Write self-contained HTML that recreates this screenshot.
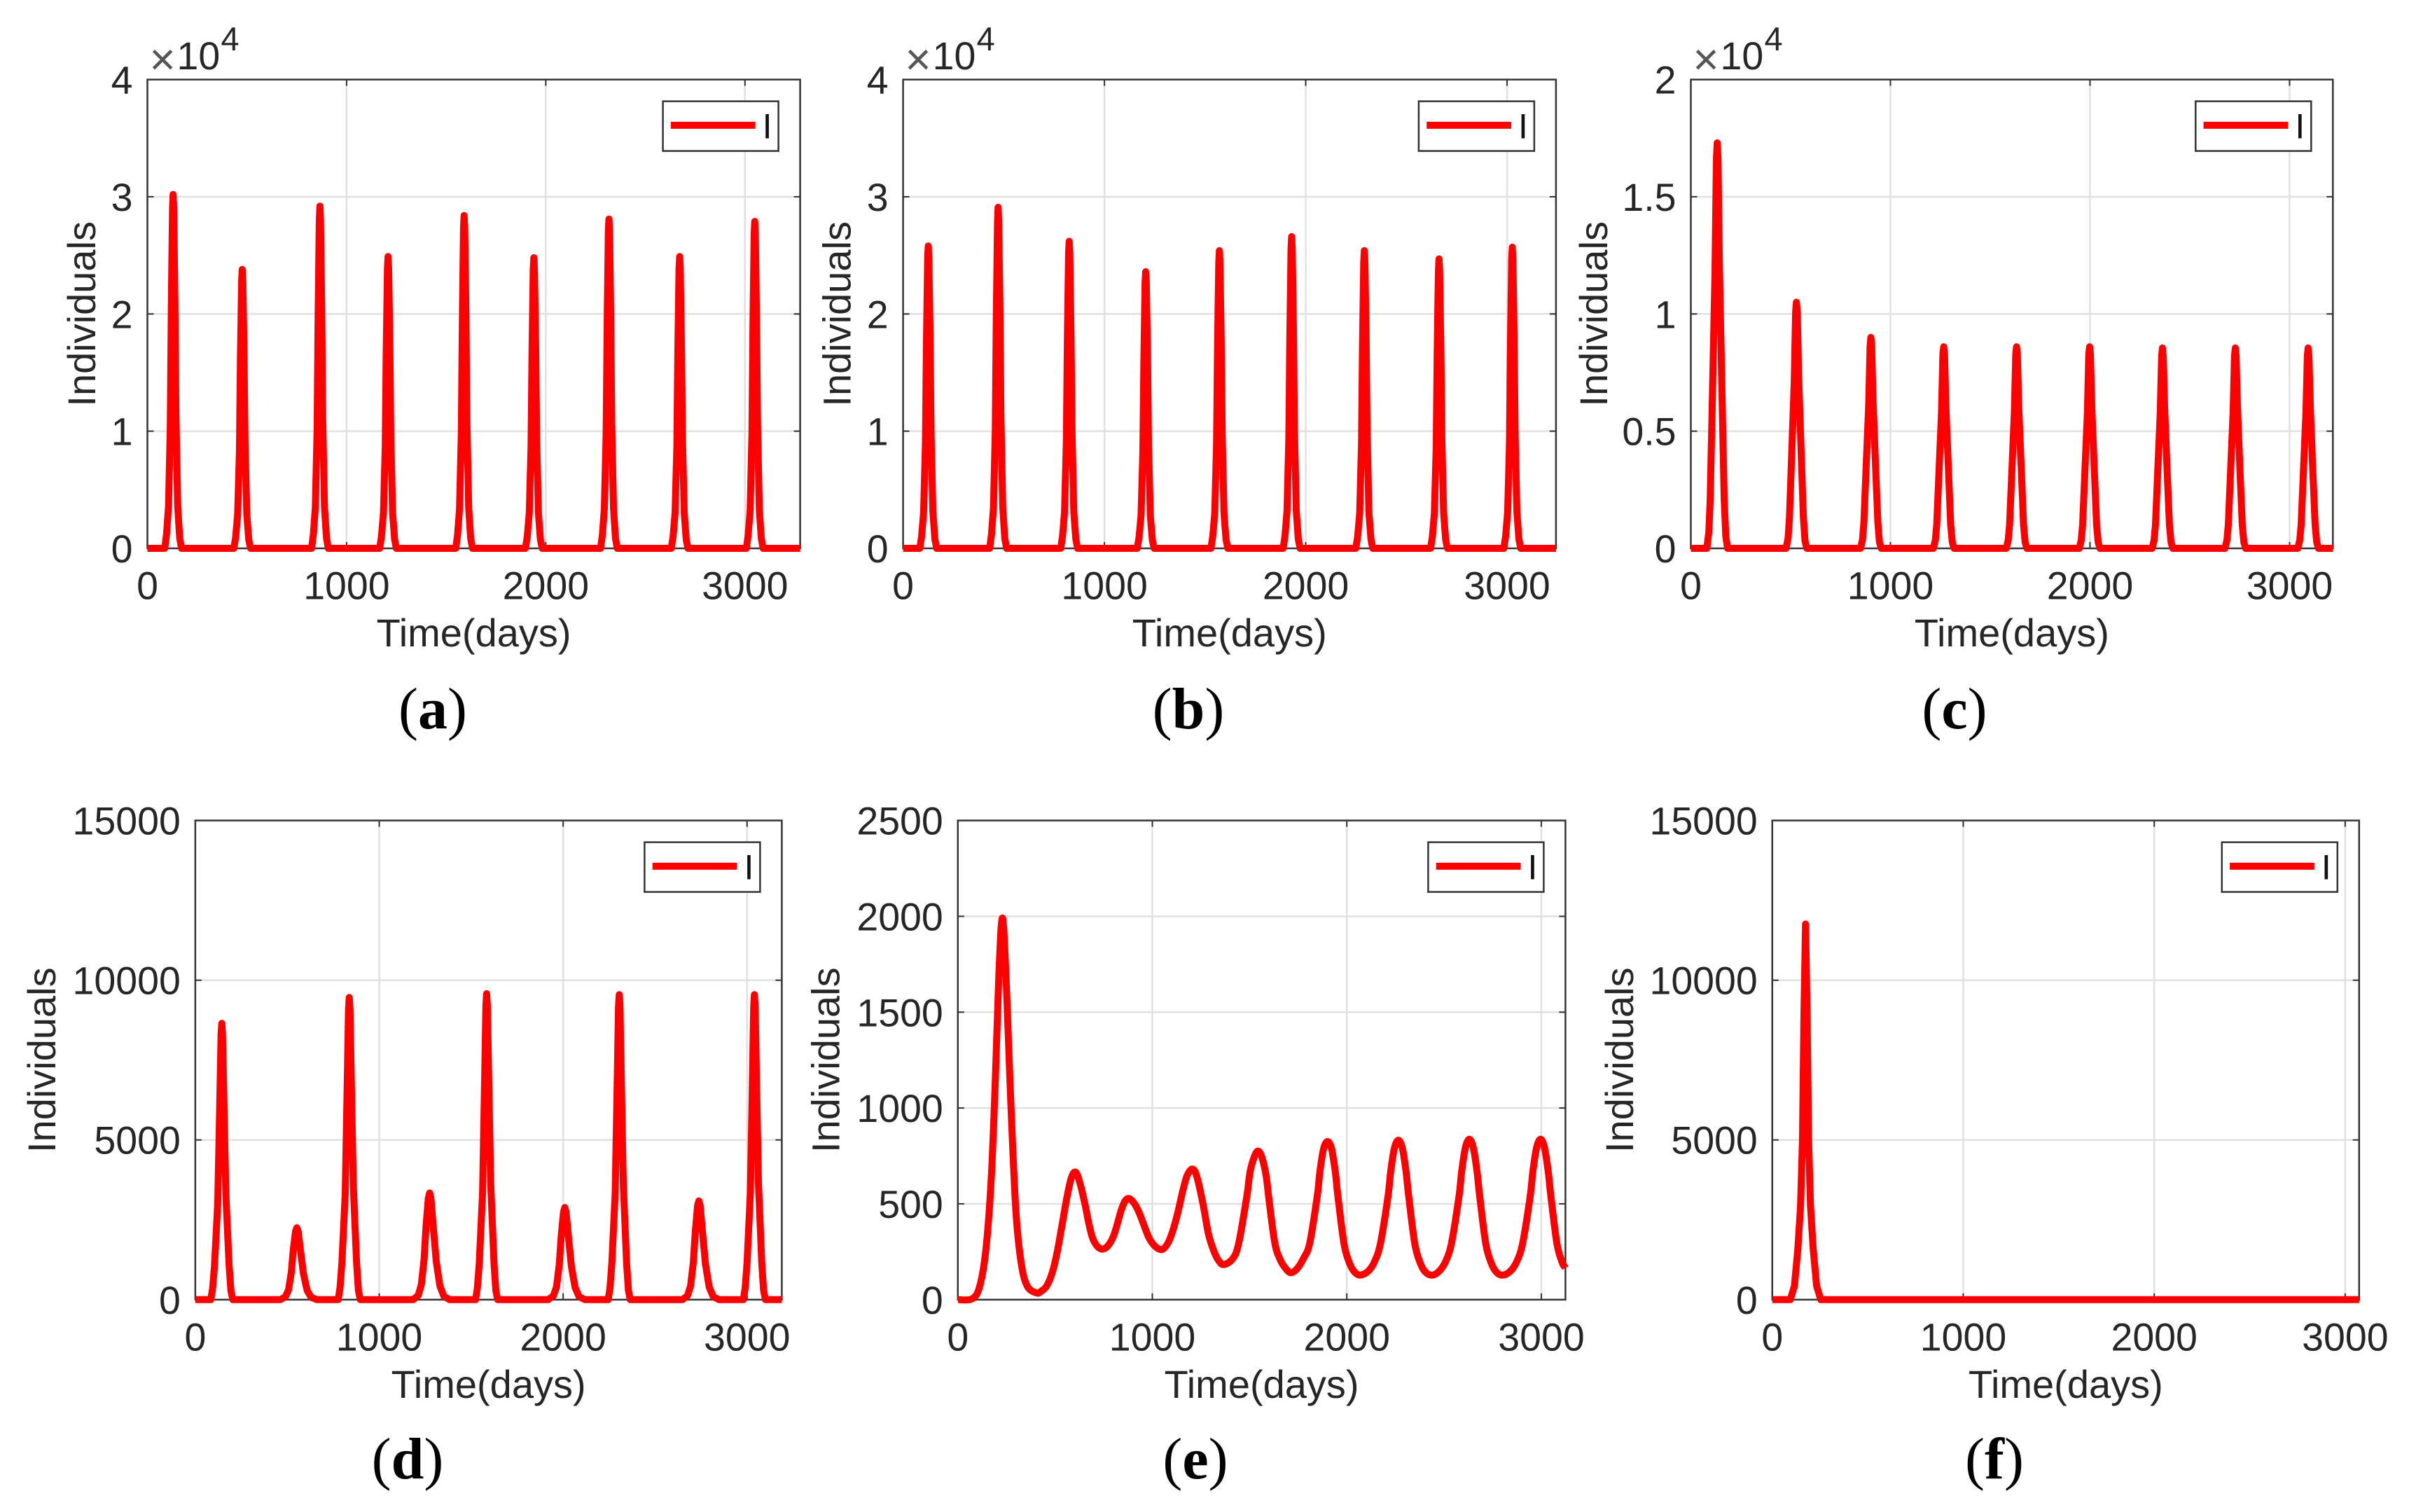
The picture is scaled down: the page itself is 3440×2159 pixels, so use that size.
<!DOCTYPE html>
<html lang="en">
<head>
<meta charset="utf-8">
<title>Infected individuals over time</title>
<style>
html,body{margin:0;padding:0;background:#fff;}
svg{display:block;font-family:"Liberation Sans",sans-serif;}
</style>
</head>
<body>
<svg id="figure" xmlns="http://www.w3.org/2000/svg" width="3440" height="2159" viewBox="0 0 3440 2159"></svg>
<script>
// ---------- DATA ----------
const xTickValues = [0, 1000, 2000, 3000];
const xTickLabels = ['0', '1000', '2000', '3000'];

const yTicks40k = [0, 10000, 20000, 30000, 40000];
const yLabels40k = ['0', '1', '2', '3', '4'];
const yTicks20k = [0, 5000, 10000, 15000, 20000];
const yLabels20k = ['0', '0.5', '1', '1.5', '2'];
const yTicks15k = [0, 5000, 10000, 15000];
const yLabels15k = ['0', '5000', '10000', '15000'];
const yTicks2500 = [0, 500, 1000, 1500, 2000, 2500];
const yLabels2500 = ['0', '500', '1000', '1500', '2000', '2500'];

const timesA = [0,
 87,96,106,115,120,126,129,132,138,143,152,162,171,
 434,443,453,462,467,473,476,479,485,490,499,509,518,
 824,833,843,852,857,863,866,869,875,880,889,899,908,
 1166,1175,1185,1194,1199,1205,1208,1211,1217,1222,1231,1241,1250,
 1548,1557,1567,1576,1581,1587,1590,1593,1599,1604,1613,1623,1632,
 1898,1907,1917,1926,1931,1937,1940,1943,1949,1954,1963,1973,1982,
 2275,2284,2294,2303,2308,2314,2317,2320,2326,2331,2340,2350,2359,
 2630,2639,2649,2658,2663,2669,2672,2675,2681,2686,2695,2705,2714,
 3007,3016,3026,3035,3040,3046,3049,3052,3058,3063,3072,3082,3091,
 3277];
const valuesA = [0,
 0,1200,3600,10600,20500,29000,30200,29000,21100,11500,3600,900,0,
 0,950,2900,8300,16200,22800,23800,22800,16700,9000,2900,700,0,
 0,1170,3500,10200,19900,28000,29200,28000,20400,11100,3500,900,0,
 0,1000,3000,8700,16900,23900,24900,23900,17400,9500,3000,750,0,
 0,1140,3400,9900,19300,27300,28400,27300,19900,10800,3400,850,0,
 0,1000,3000,8700,16900,23800,24800,23800,17400,9400,3000,750,0,
 0,1120,3400,9800,19100,27000,28100,27000,19700,10700,3400,840,0,
 0,1000,3000,8700,16900,23900,24900,23900,17400,9500,3000,750,0,
 0,1120,3300,9800,19000,26800,27900,26800,19500,10600,3300,840,0,
 0];

const timesB = [0,
 83,92,102,111,116,122,125,128,134,139,148,158,167,
 430,439,449,458,463,469,472,475,481,486,495,505,514,
 783,792,802,811,816,822,825,828,834,839,848,858,867,
 1163,1172,1182,1191,1196,1202,1205,1208,1214,1219,1228,1238,1247,
 1529,1538,1548,1557,1562,1568,1571,1574,1580,1585,1594,1604,1613,
 1888,1897,1907,1916,1921,1927,1930,1933,1939,1944,1953,1963,1972,
 2249,2258,2268,2277,2282,2288,2291,2294,2300,2305,2314,2324,2333,
 2620,2629,2639,2648,2653,2659,2662,2665,2671,2676,2685,2695,2704,
 2984,2993,3003,3012,3017,3023,3026,3029,3035,3040,3049,3059,3068,
 3243];
const valuesB = [0,
 0,1030,3100,9000,17500,24800,25800,24800,18100,9800,3100,770,0,
 0,1160,3500,10200,19800,27900,29100,27900,20400,11100,3500,870,0,
 0,1050,3100,9200,17800,25200,26200,25200,18300,10000,3100,790,0,
 0,940,2800,8300,16000,22700,23600,22700,16500,9000,2800,710,0,
 0,1020,3000,8900,17300,24400,25400,24400,17800,9700,3000,760,0,
 0,1060,3200,9300,18100,25500,26600,25500,18600,10100,3200,800,0,
 0,1020,3000,8900,17300,24400,25400,24400,17800,9700,3000,760,0,
 0,990,3000,8600,16800,23700,24700,23700,17300,9400,3000,740,0,
 0,1030,3100,9000,17500,24700,25700,24700,18000,9800,3100,770,0,
 0];

const timesC = [0,
 80,90,97,107,121,128,132,136,143,156,167,175,184,
 477,487,494,504,518,525,529,533,540,553,564,572,581,
 850,860,867,877,891,898,902,906,913,926,937,945,954,
 1215,1225,1232,1242,1256,1263,1267,1271,1278,1291,1302,1310,1319,
 1580,1590,1597,1607,1621,1628,1632,1636,1643,1656,1667,1675,1684,
 1946,1956,1963,1973,1987,1994,1998,2002,2009,2022,2033,2041,2050,
 2311,2321,2328,2338,2352,2359,2363,2367,2374,2387,2398,2406,2415,
 2676,2686,2693,2703,2717,2724,2728,2732,2739,2752,2763,2771,2780,
 3041,3051,3058,3068,3082,3089,3093,3097,3104,3117,3128,3136,3145,
 3217];
const valuesC = [0,
 0,690,2100,6100,11800,16600,17300,16600,12100,6600,2100,520,0,
 0,420,1300,3700,7100,10100,10500,10100,7400,4000,1300,320,0,
 0,360,1100,3200,6100,8600,9000,8600,6300,3400,1100,270,0,
 0,340,1000,3000,5800,8300,8600,8300,6000,3300,1000,260,0,
 0,340,1000,3000,5800,8300,8600,8300,6000,3300,1000,260,0,
 0,340,1000,3000,5800,8300,8600,8300,6000,3300,1000,260,0,
 0,340,1000,3000,5800,8200,8550,8200,6000,3200,1000,260,0,
 0,340,1000,3000,5800,8200,8550,8200,6000,3200,1000,260,0,
 0,340,1000,3000,5800,8200,8550,8200,6000,3200,1000,260,0,
 0];

const timesD = [0,
 84,94,104,122,132,140,144,148,156,166,184,194,204,
 462,490,507,522,533,545,552,559,572,588,608,630,662,
 777,787,797,815,825,833,837,841,849,859,877,887,897,
 1184,1212,1229,1244,1255,1267,1274,1281,1294,1310,1330,1352,1384,
 1524,1534,1544,1562,1572,1580,1584,1588,1596,1606,1624,1634,1644,
 1919,1947,1964,1979,1990,2002,2009,2016,2029,2045,2065,2087,2119,
 2245,2255,2265,2283,2293,2301,2305,2309,2317,2327,2345,2355,2365,
 2648,2676,2693,2708,2719,2731,2738,2745,2758,2774,2794,2816,2848,
 2980,2990,3000,3018,3028,3036,3040,3044,3052,3062,3080,3090,3100,
 3189];
const valuesD = [0,
 0,346,1040,3030,5880,8300,8650,8300,6050,3290,1040,260,0,
 0,90,310,860,1580,2140,2250,2140,1530,810,290,70,0,
 0,380,1140,3310,6430,9080,9460,9080,6620,3590,1140,280,0,
 0,130,470,1270,2340,3170,3340,3170,2270,1200,430,100,0,
 0,380,1150,3350,6510,9200,9580,9200,6710,3640,1150,290,0,
 0,120,400,1100,2020,2740,2885,2740,1960,1040,380,90,0,
 0,380,1150,3340,6490,9170,9550,9170,6690,3630,1150,290,0,
 0,120,430,1170,2160,2940,3090,2940,2100,1110,400,90,0,
 0,380,1150,3340,6490,9170,9550,9170,6690,3630,1150,290,0,
 0];

const timesE = [0,74,113,145,172,193,211,230,251,272,298,325,356,404,430,457,485,510,535,562,585,607,630,655,675,694,720,747,775,800,820,840,860,879,905,932,960,985,1018,1051,1080,1104,1130,1156,1180,1209,1232,1262,1288,1315,1340,1368,1414,1444,1486,1502,1524,1544,1564,1586,1600,1630,1659,1684,1711,1743,1777,1809,1848,1861,1880,1901,1922,1941,1954,1985,2012,2038,2067,2107,2141,2173,2212,2225,2244,2265,2286,2305,2318,2349,2376,2402,2437,2472,2506,2538,2577,2590,2609,2630,2651,2670,2683,2714,2741,2767,2798,2838,2872,2904,2943,2956,2975,2996,3017,3036,3049,3080,3107,3124];
const valuesE = [0,5,72,270,640,1158,1700,1990,1600,1035,467,195,72,35,45,72,140,244,385,540,640,664,600,491,390,318,275,264,285,331,395,467,515,528,505,454,380,318,275,262,295,356,450,565,650,681,630,491,345,257,205,183,215,294,541,664,745,775,740,640,520,294,205,165,141,160,215,294,541,664,785,825,785,664,541,294,195,146,128,146,195,294,541,664,788,832,788,664,541,294,195,146,128,146,195,294,541,664,790,837,790,664,541,294,195,146,128,146,195,294,541,664,790,837,790,664,541,294,195,165];

const timesF = [0,94,116,134,148,158,166,174,182,190,200,214,232,254,3073];
const valuesF = [0,0,430,1600,2935,5000,9050,11760,9050,5000,2935,1600,430,0,0];

// ---------- LAYOUT ----------
const panels = [
 {id:'a', left:210.5,  right:1142.6, top:113.6,  bottom:783,    xMax:3277, yMax:40000, times:timesA, values:valuesA, yTicks:yTicks40k,  yLabels:yLabels40k,  multiplier:true,  yTitleX:136,    captionX:618,  captionY:1040, smooth:false},
 {id:'b', left:1289.6, right:2221.9, top:113.6,  bottom:783,    xMax:3243, yMax:40000, times:timesB, values:valuesB, yTicks:yTicks40k,  yLabels:yLabels40k,  multiplier:true,  yTitleX:1214.5, captionX:1697, captionY:1040, smooth:false},
 {id:'c', left:2414.5, right:3331.3, top:113.6,  bottom:783,    xMax:3217, yMax:20000, times:timesC, values:valuesC, yTicks:yTicks20k,  yLabels:yLabels20k,  multiplier:true,  yTitleX:2295,   captionX:2791, captionY:1040, smooth:false},
 {id:'d', left:278.9,  right:1116.4, top:1171.6, bottom:1855.8, xMax:3189, yMax:15000, times:timesD, values:valuesD, yTicks:yTicks15k,  yLabels:yLabels15k,  multiplier:false, yTitleX:79,     captionX:582,  captionY:2111, smooth:false},
 {id:'e', left:1367.8, right:2235.4, top:1171.6, bottom:1855.8, xMax:3124, yMax:2500,  times:timesE, values:valuesE, yTicks:yTicks2500, yLabels:yLabels2500, multiplier:false, yTitleX:1198.4, captionX:1707, captionY:2111, smooth:true},
 {id:'f', left:2530.8, right:3368.8, top:1171.6, bottom:1855.8, xMax:3073, yMax:15000, times:timesF, values:valuesF, yTicks:yTicks15k,  yLabels:yLabels15k,  multiplier:false, yTitleX:2332,   captionX:2848, captionY:2111, smooth:false}
];

const svgNS = 'http://www.w3.org/2000/svg';
const figure = document.getElementById('figure');

function make(parent, tag, attrs, text) {
  const node = document.createElementNS(svgNS, tag);
  for (const key in attrs) node.setAttribute(key, attrs[key]);
  if (text !== undefined) node.textContent = text;
  parent.appendChild(node);
  return node;
}

function tracePath(px, smooth) {
  let d = 'M' + px[0][0].toFixed(2) + ' ' + px[0][1].toFixed(2);
  for (let i = 1; i < px.length; i++) {
    if (!smooth) {
      d += 'L' + px[i][0].toFixed(2) + ' ' + px[i][1].toFixed(2);
    } else {
      const p0 = px[Math.max(0, i - 2)], p1 = px[i - 1], p2 = px[i], p3 = px[Math.min(px.length - 1, i + 1)];
      const c1x = p1[0] + (p2[0] - p0[0]) / 6, c1y = p1[1] + (p2[1] - p0[1]) / 6;
      const c2x = p2[0] - (p3[0] - p1[0]) / 6, c2y = p2[1] - (p3[1] - p1[1]) / 6;
      d += 'C' + c1x.toFixed(2) + ' ' + c1y.toFixed(2) + ' ' + c2x.toFixed(2) + ' ' + c2y.toFixed(2) + ' ' + p2[0].toFixed(2) + ' ' + p2[1].toFixed(2);
    }
  }
  return d;
}

const axisColor = '#333333';
const textColor = '#262626';
const gridColor = '#e0e0e0';
const seriesColor = '#ff0000';
const labelSize = 55.5;
const titleSize = 56;

panels.forEach(function (p) {
  const xScale = function (v) { return p.left + (v / p.xMax) * (p.right - p.left); };
  const yScale = function (v) { return p.bottom - (v / p.yMax) * (p.bottom - p.top); };

  const group = make(figure, 'g', {});
  
  

  // grid lines and ticks
  xTickValues.forEach(function (v, i) {
    const x = xScale(v);
    if (v > 0) {
      const gridX = make(group, 'line', {x1:x, x2:x, y1:p.top, y2:p.bottom, stroke:gridColor, 'stroke-width':2.5});
      
      
      const tickB = make(group, 'line', {x1:x, x2:x, y1:p.bottom, y2:p.bottom - 9, stroke:axisColor, 'stroke-width':2});
      
      
      const tickT = make(group, 'line', {x1:x, x2:x, y1:p.top, y2:p.top + 9, stroke:axisColor, 'stroke-width':2});
      
      
    }
    const label = make(group, 'text', {x:x, y:p.bottom + 72.5, 'text-anchor':'middle', 'font-size':labelSize, fill:textColor}, xTickLabels[i]);
    
    
  });

  p.yTicks.forEach(function (v, i) {
    const y = yScale(v);
    if (v > 0 && v < p.yMax) {
      const gridY = make(group, 'line', {x1:p.left, x2:p.right, y1:y, y2:y, stroke:gridColor, 'stroke-width':2.5});
      
      
      const tickL = make(group, 'line', {x1:p.left, x2:p.left + 9, y1:y, y2:y, stroke:axisColor, 'stroke-width':2});
      
      
      const tickR = make(group, 'line', {x1:p.right, x2:p.right - 9, y1:y, y2:y, stroke:axisColor, 'stroke-width':2});
      
      
    }
    const label = make(group, 'text', {x:p.left - 21, y:y + 20, 'text-anchor':'end', 'font-size':labelSize, fill:textColor}, p.yLabels[i]);
    
    
  });

  // axes box
  const box = make(group, 'rect', {x:p.left, y:p.top, width:p.right - p.left, height:p.bottom - p.top, fill:'none', stroke:axisColor, 'stroke-width':2.5});
  
  

  // series
  const points = p.times.map(function (t, i) { return [xScale(t), yScale(p.values[i])]; });
  const series = make(group, 'path', {d:tracePath(points, p.smooth), fill:'none', stroke:seriesColor, 'stroke-width':10, 'stroke-linejoin':'round', 'stroke-linecap':'butt'});
  
  

  // legend
  const legX = p.right - 31 - 165, legY = p.top + 31;
  const legend = make(group, 'g', {});
  
  
  const legendBox = make(legend, 'rect', {x:legX, y:legY, width:165, height:71, fill:'#fff', stroke:axisColor, 'stroke-width':2.5});
  
  
  const legendLine = make(legend, 'line', {x1:legX + 11.3, x2:legX + 132, y1:legY + 34.3, y2:legY + 34.3, stroke:seriesColor, 'stroke-width':10});
  
  
  const legendText = make(legend, 'text', {x:legX + 149, y:legY + 53, 'text-anchor':'middle', 'font-size':50, fill:'#111'}, 'I');
  
  

  // axis titles
  const xTitle = make(group, 'text', {x:(p.left + p.right) / 2, y:p.bottom + 140, 'text-anchor':'middle', 'font-size':titleSize, fill:textColor}, 'Time(days)');
  
  
  const midY = (p.top + p.bottom) / 2;
  const yTitle = make(group, 'text', {x:p.yTitleX, y:midY, 'text-anchor':'middle', 'font-size':titleSize, fill:textColor, transform:'rotate(-90 ' + p.yTitleX + ' ' + midY + ')'}, 'Individuals');
  
  

  // exponent multiplier
  if (p.multiplier) {
    const times = make(group, 'text', {x:p.left + 21.5, y:106.5, 'text-anchor':'middle', 'font-size':64, fill:'#555'}, '×');
    
    
    const base = make(group, 'text', {x:p.left + 42, y:99, 'font-size':labelSize, fill:textColor}, '10');
    
    
    const exponent = make(group, 'text', {x:p.left + 105, y:72, 'font-size':47, fill:textColor}, '4');
    
    
  }

  // caption
  const caption = make(group, 'text', {x:p.captionX, y:p.captionY, 'text-anchor':'middle', 'font-size':84, fill:'#000', style:'font-family:"Liberation Serif",serif'});
  
  
  make(caption, 'tspan', {}, '(');
  make(caption, 'tspan', {'font-weight':'bold'}, p.id);
  make(caption, 'tspan', {}, ')');
});
</script>
</body>
</html>
